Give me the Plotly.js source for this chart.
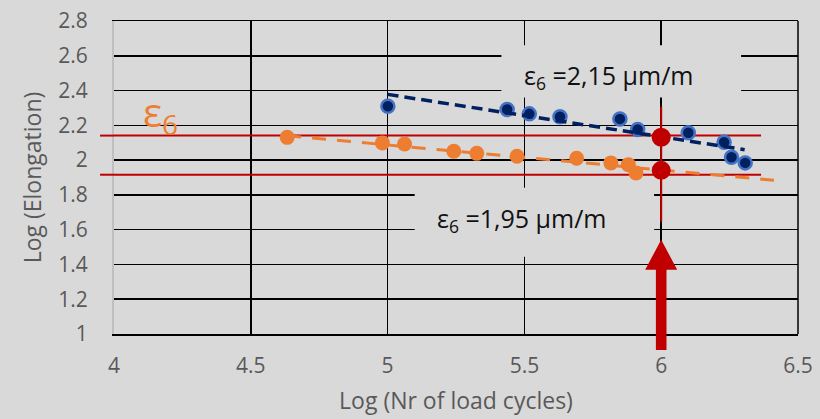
<!DOCTYPE html>
<html>
<head>
<meta charset="utf-8">
<script src="https://cdn.plot.ly/plotly-3.0.1.min.js"></script>
<style>html,body{margin:0;padding:0;background:#d9d9d9;}#chart{width:820px;height:419px;}</style>
</head>
<body>
<div id="chart"></div>
<script>
// ---- data ----
const blueX = [5.001, 5.437, 5.518, 5.630, 5.849, 5.914, 6.099, 6.230, 6.257, 6.307];
const blueY = [2.310, 2.291, 2.266, 2.249, 2.237, 2.176, 2.157, 2.103, 2.016, 1.984];
const orangeX = [4.633, 4.981, 5.062, 5.242, 5.326, 5.473, 5.691, 5.816, 5.880, 5.908];
const orangeY = [2.131, 2.099, 2.093, 2.051, 2.039, 2.022, 2.011, 1.984, 1.974, 1.926];
const blueTrendX = [5.0, 6.305];
const blueTrendY = [2.378, 2.060];
const orangeTrendX = [4.633, 6.412];
const orangeTrendY = [2.140, 1.884];
const redX = [6, 6];
const redY = [2.131, 1.941];
const redLevels = [2.141, 1.916];
const redLineX = [3.949, 6.365];
const redVertY = [2.308, 1.646];
const arrowTipY = 1.542;
const xTickVals = [4, 4.5, 5, 5.5, 6, 6.5];
const xTickText = ['4', '4.5', '5', '5.5', '6', '6.5'];
const yTickVals = [1, 1.2, 1.4, 1.6, 1.8, 2, 2.2, 2.4, 2.6, 2.8];
const yTickText = ['1', '1.2', '1.4', '1.6', '1.8', '2', '2.2', '2.4', '2.6', '2.8'];
const labelUpper = 'ε<sub>6</sub> =2,15 μm/m';
const labelLower = 'ε<sub>6</sub> =1,95 μm/m';
const labelEps = 'ε<sub>6</sub>';

const xRange = [4, 6.5], yRange = [1, 2.8];
const xp = x => (x - xRange[0]) / (xRange[1] - xRange[0]);
const yp = y => (y - yRange[0]) / (yRange[1] - yRange[0]);
const plotW = 684, plotH = 313;

const RED = '#c00000';
const traces = [];
// red horizontal lines (inside plot)
redLevels.forEach(v => traces.push({x: [xRange[0], redLineX[1]], y: [v, v], mode: 'lines', line: {color: RED, width: 2}, hoverinfo: 'skip', showlegend: false}));
// red vertical line
traces.push({x: [redX[0], redX[0]], y: redVertY, mode: 'lines', line: {color: RED, width: 2}, showlegend: false});
// orange series
traces.push({x: orangeX, y: orangeY, mode: 'markers', marker: {color: '#ed7d31', size: 15}, showlegend: false});
// blue series
traces.push({x: blueX, y: blueY, mode: 'markers', marker: {color: '#002060', size: 13, line: {color: '#4472c4', width: 2.5}}, showlegend: false});
// trendlines
traces.push({x: orangeTrendX, y: orangeTrendY, mode: 'lines', line: {color: '#ed7d31', width: 3, dash: '14px,11px'}, showlegend: false});
traces.push({x: blueTrendX, y: blueTrendY, mode: 'lines', line: {color: '#002060', width: 3.5, dash: '11px,6px'}, showlegend: false});
// red points
traces.push({x: redX, y: redY, mode: 'markers', marker: {color: RED, size: 19}, showlegend: false});

const shapes = [];
// red line stubs outside the plot area
redLevels.forEach(v => shapes.push({type: 'line', xref: 'paper', yref: 'paper', x0: xp(redLineX[0]), x1: 0, y0: yp(v), y1: yp(v), line: {color: RED, width: 2}, layer: 'above'}));
// right frame line
shapes.push({type: 'line', xref: 'paper', yref: 'paper', x0: 1, x1: 1, y0: 0, y1: 1, line: {color: '#000', width: 1.5}, layer: 'above'});
// label background boxes
shapes.push({type: 'rect', xref: 'x', yref: 'y', x0: 5.416, x1: 6.292, y0: 2.360, y1: 2.660, fillcolor: '#d9d9d9', line: {width: 0}, layer: 'above'});
shapes.push({type: 'rect', xref: 'x', yref: 'y', x0: 5.099, x1: 5.974, y0: 1.444, y1: 1.841, fillcolor: '#d9d9d9', line: {width: 0}, layer: 'above'});
// arrow
const ax = xp(redX[0]);
const shaftHalf = 5.3 / plotW, headHalf = 16 / plotW;
const tip = yp(arrowTipY), headBase = tip - 30 / plotH, bottom = -16 / plotH;
shapes.push({type: 'path', xref: 'paper', yref: 'paper',
  path: `M ${ax - shaftHalf} ${bottom} L ${ax - shaftHalf} ${headBase} L ${ax - headHalf} ${headBase} L ${ax} ${tip} L ${ax + headHalf} ${headBase} L ${ax + shaftHalf} ${headBase} L ${ax + shaftHalf} ${bottom} Z`,
  fillcolor: RED, line: {width: 0}, layer: 'above'});

const annotations = [
  {x: 5.810, y: 2.481, xref: 'x', yref: 'y', text: labelUpper, showarrow: false, font: {family: 'Open Sans', size: 25, color: '#111'}},
  {x: 5.493, y: 1.657, xref: 'x', yref: 'y', text: labelLower, showarrow: false, font: {family: 'Open Sans', size: 25, color: '#111'}},
  {x: 4.17, y: 2.27, xref: 'x', yref: 'y', text: labelEps, showarrow: false, font: {family: 'Open Sans', size: 40, color: '#ed7d31'}}
];

const layout = {
  width: 820, height: 419,
  margin: {l: 114, r: 22, t: 21, b: 85},
  paper_bgcolor: '#d9d9d9', plot_bgcolor: '#d9d9d9',
  font: {family: 'Open Sans', color: '#595959', size: 21},
  xaxis: {range: xRange, tickvals: xTickVals, ticktext: xTickText, showgrid: true, gridcolor: '#000', gridwidth: 1.5,
    zeroline: false, showline: true, linecolor: '#000', linewidth: 1.5, mirror: true, ticks: '', ticklabelstandoff: 12,
    tickfont: {size: 21, color: '#595959'},
    title: {text: 'Log (Nr of load cycles)', font: {size: 23, color: '#595959'}, standoff: 15}},
  yaxis: {range: yRange, tickvals: yTickVals, ticktext: yTickText, showgrid: true, gridcolor: '#000', gridwidth: 1.5,
    zeroline: false, showline: true, linecolor: '#bfbfbf', linewidth: 2, ticks: '', ticklabelstandoff: 20,
    tickfont: {size: 21, color: '#595959'},
    title: {text: 'Log (Elongation)', font: {size: 23, color: '#595959'}, standoff: 10}},
  shapes: shapes,
  annotations: annotations,
  showlegend: false
};

Plotly.newPlot('chart', traces, layout, {displayModeBar: false, staticPlot: true});
</script>
</body>
</html>
